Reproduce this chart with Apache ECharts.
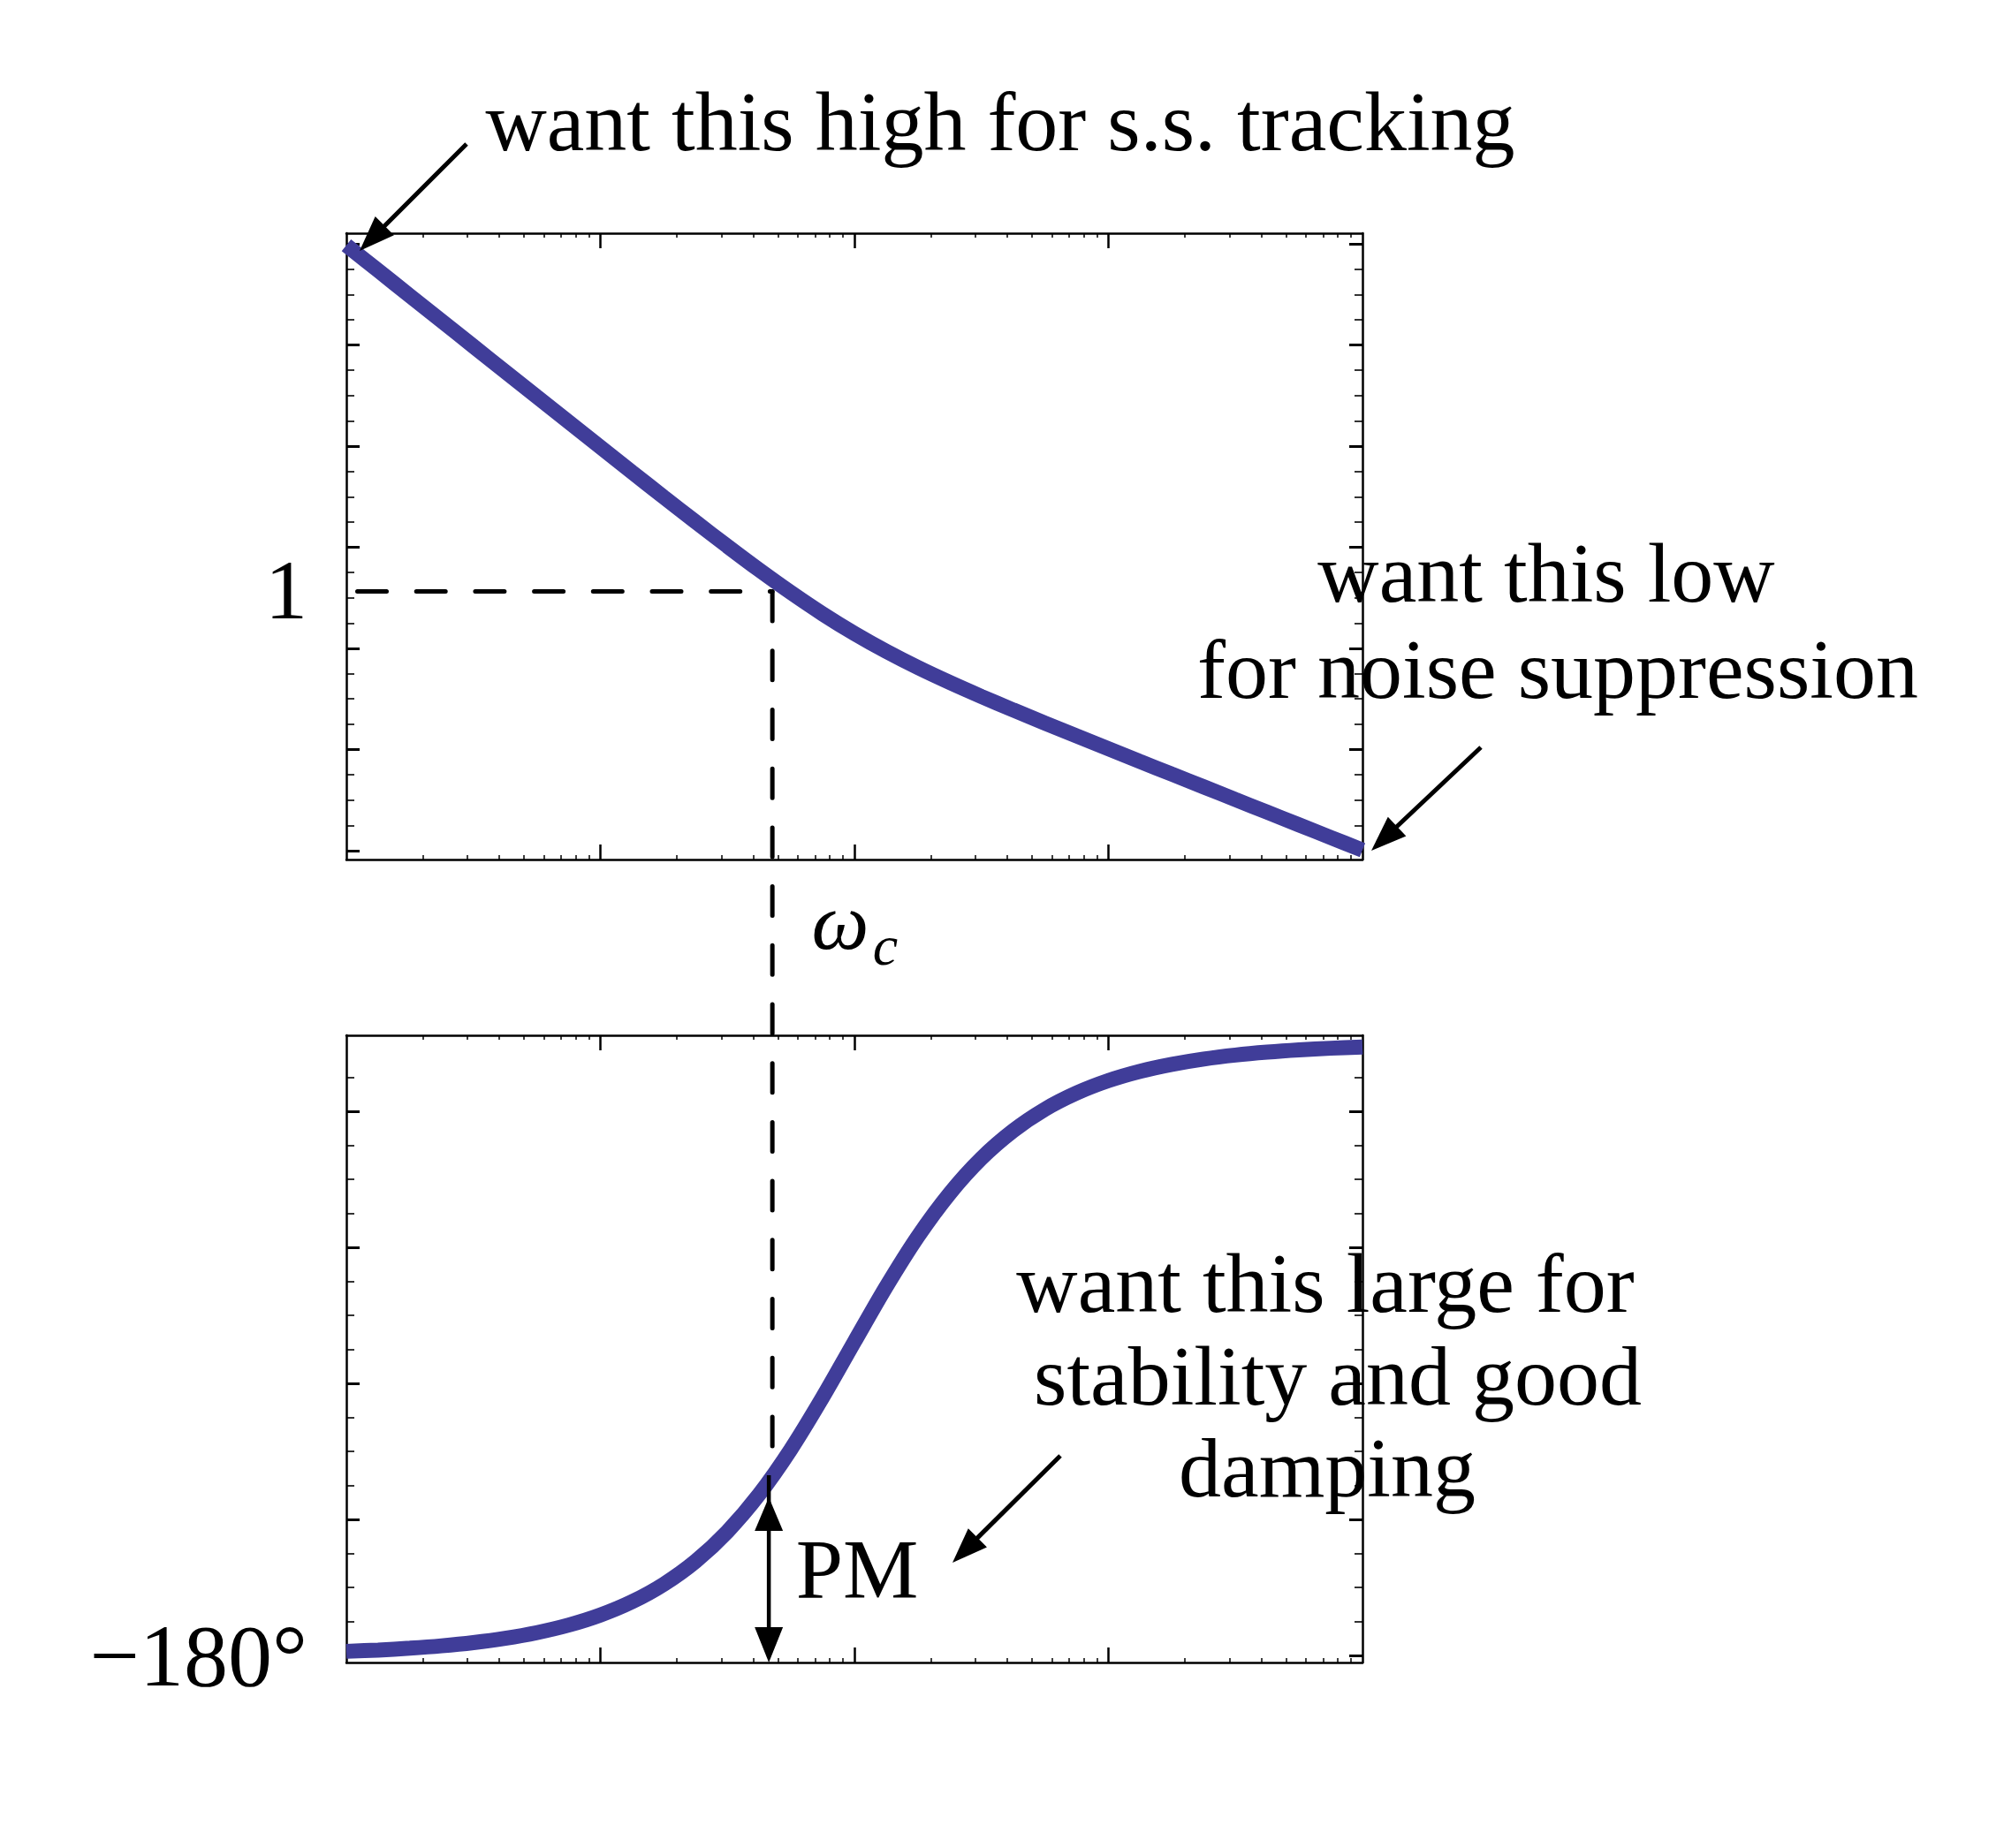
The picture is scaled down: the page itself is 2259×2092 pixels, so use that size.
<!DOCTYPE html>
<html><head><meta charset="utf-8">
<script src="https://cdn.jsdelivr.net/npm/echarts@6/dist/echarts.min.js"></script>
<style>html,body{margin:0;padding:0;background:#fff}#c{width:2259px;height:2092px}</style>
</head><body><div id="c"></div>
<script>
// ---- data (x in decades of frequency) ----
const logFreq     = [0, 0.125, 0.25, 0.375, 0.5, 0.625, 0.75, 0.875, 1, 1.125, 1.25, 1.375, 1.5, 1.625, 1.75, 1.875,
                     2, 2.125, 2.25, 2.375, 2.5, 2.625, 2.75, 2.875, 3, 3.125, 3.25, 3.375, 3.5, 3.625, 3.75, 3.875, 4];
const magnitudeDb = [68.5, 63.5, 58.5, 53.5, 48.5, 43.51, 38.51, 33.53, 28.55, 23.58, 18.65, 13.76, 8.95, 4.26, -0.22, -4.44,
                     -8.32, -11.84, -15.05, -18.0, -20.78, -23.44, -26.03, -28.59, -31.12, -33.64, -36.15, -38.65, -41.16, -43.66, -46.16, -48.66, -51.16];
const phaseDeg    = [-179.4, -179.21, -178.94, -178.59, -178.12, -177.49, -176.65, -175.54, -174.06, -172.1, -169.52, -166.15, -161.79, -156.32, -149.68, -142.05,
                     -133.88, -125.79, -118.4, -112.08, -106.91, -102.85, -99.7, -97.31, -95.49, -94.12, -93.1, -92.32, -91.74, -91.31, -90.98, -90.73, -90.55];
const crossoverLogFreq = 1.677;
const crossoverDb = 0;
const pmTopDeg = -153.5;
// ---- ticks ----
const xMajorTicks = [1, 2, 3];
const xMinorTicks = [0.30103, 0.47712, 0.60206, 0.69897, 0.77815, 0.8451, 0.90309, 0.95424,
  1.30103, 1.47712, 1.60206, 1.69897, 1.77815, 1.8451, 1.90309, 1.95424,
  2.30103, 2.47712, 2.60206, 2.69897, 2.77815, 2.8451, 2.90309, 2.95424,
  3.30103, 3.47712, 3.60206, 3.69897, 3.77815, 3.8451, 3.90309, 3.95424];
const magMajorTicks = [-51.25, -31.25, -11.25, 8.75, 28.75, 48.75, 68.75];
const magMinorTicks = [-46.25, -41.25, -36.25, -26.25, -21.25, -16.25, -6.25, -1.25, 3.75, 13.75, 18.75, 23.75, 33.75, 38.75, 43.75, 53.75, 58.75, 63.75];
const phaseMajorTicks = [-180, -160, -140, -120, -100];
const phaseMinorTicks = [-175, -170, -165, -155, -150, -145, -135, -130, -125, -115, -110, -105, -95];
const magTickLabel = '1';
const phaseTickLabel = '\u2212180\u00b0';

const FONT = '"Liberation Serif", "Times New Roman", serif';
const LINE_COLOR = '#403d99';

const chart = echarts.init(document.getElementById('c'), null, {renderer: 'canvas'});

function xAx(grid, pos, ticks, len, w, line) {
  return {
    type: 'value', gridIndex: grid, position: pos, min: 0, max: 4,
    axisLine: {show: line, onZero: false, lineStyle: {color: '#000', width: 2.5}},
    axisTick: {show: true, inside: true, length: len, customValues: ticks, lineStyle: {color: '#000', width: w}},
    axisLabel: {show: false}, splitLine: {show: false}
  };
}
function yAx(grid, pos, min, max, ticks, len, w, line) {
  return {
    type: 'value', gridIndex: grid, position: pos, min: min, max: max,
    axisLine: {show: line, onZero: false, lineStyle: {color: '#000', width: 2.5}},
    axisTick: {show: true, inside: true, length: len, customValues: ticks, lineStyle: {color: '#000', width: w}},
    axisLabel: {show: false}, splitLine: {show: false}
  };
}
const xAxes = [], yAxes = [];
[0, 1].forEach(g => {
  xAxes.push(xAx(g, 'bottom', xMajorTicks, 17, 2.5, true));
  xAxes.push(xAx(g, 'bottom', xMinorTicks, 5, 1.5, false));
  xAxes.push(xAx(g, 'top', xMajorTicks, 17, 2.5, true));
  xAxes.push(xAx(g, 'top', xMinorTicks, 5, 1.5, false));
});
const magMin = -53.02, magMax = 70.87, phMin = -181.04, phMax = -88.83;
yAxes.push(yAx(0, 'left', magMin, magMax, magMajorTicks, 15, 3, true));
yAxes.push(yAx(0, 'left', magMin, magMax, magMinorTicks, 9, 1.6, false));
yAxes.push(yAx(0, 'right', magMin, magMax, magMajorTicks, 15, 3, true));
yAxes.push(yAx(0, 'right', magMin, magMax, magMinorTicks, 9, 1.6, false));
yAxes.push(yAx(1, 'left', phMin, phMax, phaseMajorTicks, 15, 3, true));
yAxes.push(yAx(1, 'left', phMin, phMax, phaseMinorTicks, 9, 1.6, false));
yAxes.push(yAx(1, 'right', phMin, phMax, phaseMajorTicks, 15, 3, true));
yAxes.push(yAx(1, 'right', phMin, phMax, phaseMinorTicks, 9, 1.6, false));

chart.setOption({
  backgroundColor: '#fff',
  animation: false,
  grid: [
    {left: 392, top: 264, width: 1150, height: 709, outerBoundsMode: 'none', containLabel: false},
    {left: 392, top: 1172, width: 1150, height: 710, outerBoundsMode: 'none', containLabel: false}
  ],
  xAxis: xAxes,
  yAxis: yAxes,
  series: [
    {type: 'line', xAxisIndex: 0, yAxisIndex: 0, data: logFreq.map((x, i) => [x, magnitudeDb[i]]),
     showSymbol: false, smooth: 0.3, lineStyle: {color: LINE_COLOR, width: 17}, z: 2},
    {type: 'line', xAxisIndex: 4, yAxisIndex: 4, data: logFreq.map((x, i) => [x, phaseDeg[i]]),
     showSymbol: false, smooth: 0.3, lineStyle: {color: LINE_COLOR, width: 17}, z: 2}
  ]
});

// ---- annotations ----
const pMag = (x, y) => chart.convertToPixel({xAxisIndex: 0, yAxisIndex: 0}, [x, y]);
const pPh = (x, y) => chart.convertToPixel({xAxisIndex: 4, yAxisIndex: 4}, [x, y]);

function arrowHead(tx, ty, dx, dy, len, hw) {
  const L = Math.hypot(dx, dy), ux = dx / L, uy = dy / L;
  const bx = tx - ux * len, by = ty - uy * len;
  return {type: 'polygon', z: 20, shape: {points: [[tx, ty], [bx - uy * hw, by + ux * hw], [bx + uy * hw, by - ux * hw]]},
    style: {fill: '#000'}};
}
function arrow(x1, y1, x2, y2) {
  const dx = x2 - x1, dy = y2 - y1, L = Math.hypot(dx, dy);
  const len = 40;
  return [
    {type: 'line', z: 20, shape: {x1: x1, y1: y1, x2: x2 - dx / L * (len - 4), y2: y2 - dy / L * (len - 4)},
     style: {stroke: '#000', lineWidth: 5}},
    arrowHead(x2, y2, dx, dy, len, 15)
  ];
}
function txt(text, x, y, size, align, italic) {
  return {type: 'text', z: 20, style: {text: text, x: x, y: y, fill: '#000',
    font: (italic ? 'italic ' : '') + size + 'px ' + FONT, align: align, verticalAlign: 'middle'}};
}

const left0 = pMag(0, crossoverDb);
const cross = pMag(crossoverLogFreq, crossoverDb);
const pmTop = pPh(crossoverLogFreq, pmTopDeg);
const pmBot = pPh(crossoverLogFreq, phMin);
const pmX = cross[0] - 4;

const g = [];
// dashed guide lines
g.push({type: 'line', z: 15, shape: {x1: left0[0] + 12.5, y1: cross[1], x2: cross[0], y2: cross[1]},
  style: {stroke: '#000', lineWidth: 5, lineDash: [33, 33.7], lineCap: 'round'}});
g.push({type: 'line', z: 15, shape: {x1: cross[0], y1: cross[1] + 0.5, x2: cross[0], y2: pmTop[1] - 30},
  style: {stroke: '#000', lineWidth: 5, lineDash: [33, 33.7], lineCap: 'round'}});
// PM double arrow
g.push({type: 'line', z: 20, shape: {x1: pmX, y1: pmTop[1], x2: pmX, y2: pmBot[1] - 20}, style: {stroke: '#000', lineWidth: 4.5}});
g.push(arrowHead(pmX, pmTop[1] + 25, 0, -1, 38, 16));
g.push(arrowHead(pmX, pmBot[1], 0, 1, 40, 16));
// pointer arrows
g.push(...arrow(528, 163, 407, 284));
g.push(...arrow(1676, 846, 1552, 963));
g.push(...arrow(1200, 1648, 1078, 1769));
// texts
g.push(txt('want this high for s.s. tracking', 1132, 145, 96, 'center'));
g.push(txt('want this low', 1750, 656, 96, 'center'));
g.push(txt('for noise suppression', 1763, 765, 96, 'center'));
g.push(txt('want this large for', 1500, 1460, 96, 'center'));
g.push(txt('stability and good', 1514, 1565, 96, 'center'));
g.push(txt('damping', 1502, 1669, 96, 'center'));
g.push(txt('PM', 970, 1784, 96, 'center'));
g.push(txt('\u03c9', 951, 1050, 92, 'center', true));
g.push(txt('c', 1002, 1075, 64, 'center', true));
g.push(txt(magTickLabel, 324, cross[1] + 5, 96, 'center'));
g.push(txt(phaseTickLabel, 348, pPh(0, -180)[1] + 8, 100, 'right'));

chart.setOption({graphic: g});
</script></body></html>
